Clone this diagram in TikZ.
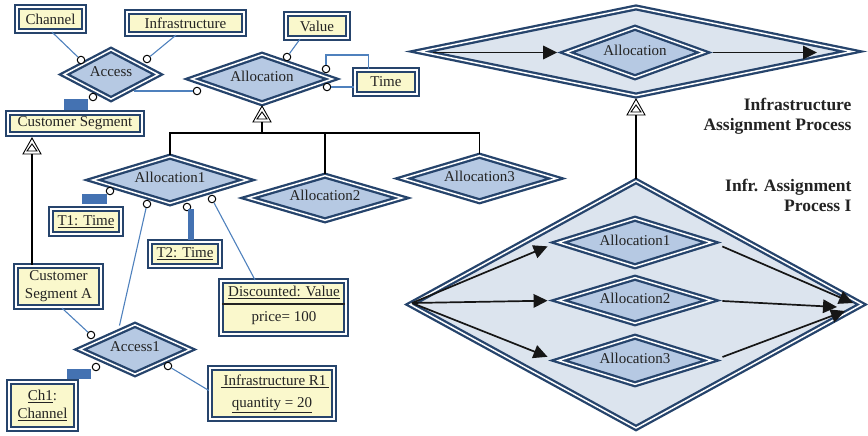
\documentclass[tikz,border=0pt]{standalone}
\usepackage{fontspec}
\setmainfont{Liberation Serif}
\usetikzlibrary{shapes.geometric,arrows.meta,calc}

\definecolor{edgeblue}{RGB}{38,68,108}
\definecolor{relfill}{RGB}{182,201,227}
\definecolor{procfill}{RGB}{220,228,238}
\definecolor{entfill}{RGB}{250,248,204}
\definecolor{linkblue}{RGB}{79,129,189}
\definecolor{barblue}{RGB}{68,114,178}
\definecolor{flowblack}{RGB}{22,22,22}
\definecolor{inkgray}{RGB}{35,35,35}

\tikzset{
  gen/.pic={
    \draw[line width=0.9pt, fill=white] (0,0) -- (9,16) -- (-9,16) -- cycle;
    \draw[line width=0.9pt] (0,6) -- (5,13) -- (-5,13) -- cycle;
    \coordinate (-base) at (0,16);
  }
}

\begin{document}
\begin{tikzpicture}[x=1pt,y=-1pt,
  every node/.style={font=\fontsize{15}{18}\selectfont, text=inkgray},
  dbl/.style={draw=edgeblue, line width=2.3pt, double=white, double distance=1.5pt},
  rel/.style={dbl, diamond, aspect=3, inner sep=0pt, fill=relfill, text depth=5pt},
  proc/.style={dbl, diamond, aspect=3, inner sep=0pt, fill=procfill},
  ent/.style={dbl, rectangle, inner sep=0pt, fill=entfill},
  size/.style 2 args={minimum width=#1, minimum height=#2},
  port/.style={circle, draw=black, fill=white, line width=1pt, minimum size=7.5pt, inner sep=0pt},
  bar/.style={rectangle, fill=barblue, inner sep=0pt},
  conn/.style={draw=linkblue, line width=1.1pt},
  tree/.style={draw=black, line width=1.2pt},
  flow/.style={draw=flowblack, line width=1.7pt, -{Triangle[length=14pt,width=13.5pt]}},
  title/.style={font=\fontsize{17.5}{20}\selectfont\bfseries, align=right, anchor=east},
]
\useasboundingbox (0,0) rectangle (868,436);

% ---------- process views on the right ----------
\node[proc, size={433}{89}] (bigTop) at (636,51.5) {};
\node[proc, size={452.5}{248}] (bigBot) at (636,304.5) {};

\node[rel, size={138.5}{50.5}] (allocTop) at (635,52.5) {Allocation};
\node[rel, size={154}{48.5}] (b1) at (635,242.5) {Allocation1};
\node[rel, size={153.5}{46.5}] (b2) at (635,300.5) {Allocation2};
\node[rel, size={154}{48.5}] (b3) at (635,360.5) {Allocation3};

\node[title] (lbl1) at (855,116) {Infrastructure\\Assignment Process};
\node[title] (lbl2) at (855,195) {Infr. Assignment\\Process I};

% ---------- relationship types ----------
\node[rel, size={95}{50.2}] (access) at (111,74.5) {Access};
\node[rel, size={141.5}{49.5}] (alloc) at (262,79) {Allocation};
\node[rel, size={155.5}{47.6}] (a1) at (170,180) {Allocation1};
\node[rel, size={154.7}{45.6}] (a2) at (325,198) {Allocation2};
\node[rel, size={154.5}{46.5}] (a3) at (479.5,178.5) {Allocation3};
\node[rel, size={111.2}{50.3}] (access1) at (135,349.5) {Access1};

% ---------- entity types and instances ----------
\node[ent, size={66.9}{23.9}] (chan) at (50.5,19) {Channel};
\node[ent, size={116.9}{21.9}] (infra) at (185.5,23) {Infrastructure};
\node[ent, size={61.9}{23.9}] (value) at (317,26) {Value};
\node[ent, size={61.9}{23.9}] (time) at (386,82) {Time};
\node[ent, size={133.9}{20.9}] (cseg) at (75,123.5) {Customer Segment};
\node[ent, size={69.9}{24.9}] (t1) at (86,221.5) {\underline{T1: Time}};
\node[ent, size={69.9}{23.9}] (t2) at (185,254) {\underline{T2: Time}};
\node[ent, size={84.9}{40.9}, align=center] (csegA) at (58.5,286.5) {Customer\\Segment A};
\node[ent, size={124.9}{52.9}] (disc) at (283.5,307.5) {};
\node[ent, size={66.9}{46.9}, align=center] (ch1) at (42.5,405.5) {\underline{Ch1}:\\\underline{Channel}};
\node[ent, size={123.9}{50.9}] (infR1) at (272,393.5) {};

\node (discT) at (284,292) {\underline{Discounted: Value}};
\node (discP) at (284,318) {price= 100};
\draw[line width=1.4pt, draw=inkgray] ($(disc.west)+(2,-3.5)$) -- ($(disc.east)+(-2,-3.5)$);
\node (infRT) at (275,381) {\underline{\hspace{3pt}Infrastructure R1\hspace{3pt}}};
\node (infRQ) at (272,405) {\underline{quantity = 20}};

% ---------- role ports ----------
\node[port] (pA1) at (81,60) {};
\node[port] (pA2) at (147,59) {};
\node[port] (pA3) at (93,97) {};
\node[port] (pL1) at (197,91) {};
\node[port] (pV) at (287,57) {};
\node[port] (pT1) at (326,69) {};
\node[port] (pT2) at (327,87) {};
\node[port] (pB1) at (110,191) {};
\node[port] (pB2) at (147,204) {};
\node[port] (pB3) at (187,207) {};
\node[port] (pB4) at (212,199) {};
\node[port] (pC1) at (91,335) {};
\node[port] (pC2) at (96,367) {};
\node[port] (pC3) at (168,366) {};

% ---------- identifying bars ----------
\node[bar, size={24}{11}] (bar1) at (76,104.5) {};
\node[bar, size={25}{10}] (bar2) at (94.5,199) {};
\node[bar, size={6}{31}] (bar3) at (191,224.5) {};
\node[bar, size={24}{10}] (bar4) at (79,374) {};

% ---------- role connectors ----------
\draw[conn] ($(chan.south)+(1.5,0)$) -- (pA1);
\draw[conn] ($(infra.south)+(-9.5,0)$) -- (pA2);
\draw[conn] ($(value.south)+(-17,0)$) -- (pV);
\coordinate (accR) at (133.5,91);
\draw[conn] (accR) -- (pL1);
\draw[conn] (pT1) -- ++(0,-14) -| ($(time.north west)+(15,0)$);
\draw[conn] (pT2) -- (pT2 -| time.west);
\coordinate (acc1T) at (119.5,325.5);
\draw[conn] (pB2) -- (acc1T);
\draw[conn] (pB4) -- ($(disc.north)+(-28.5,0)$);
\draw[conn] ($(csegA.south)+(3.5,0)$) -- (pC1);
\draw[conn] (pC3) -- ($(infR1.west)+(0,-3)$);

% ---------- specialisation ----------
\pic (g1) at (262,106) {gen};
\pic (g2) at (32,138) {gen};
\pic (g3) at (636,99) {gen};
\coordinate (bus) at (0,133);
\draw[tree] (g1-base) -- (g1-base |- bus);
\draw[tree] (a1.north) -- (a1.north |- bus) -| (a3.north);
\draw[tree] (a2.north) -- (a2.north |- bus);
\draw[tree] (g2-base) -- (csegA.north -| g2-base);
\draw[tree] (g3-base) -- (bigBot.north);

% ---------- flows ----------
\coordinate (fT0) at (433,52.5);
\coordinate (fT1) at (817,52.5);
\draw[flow, shorten >=7.5pt] (fT0) -- (allocTop.west);
\draw[flow, shorten <=7.5pt] (allocTop.east) -- (fT1);

\coordinate (fB0) at (412,303);
\coordinate (fE1) at (853,303);
\coordinate (fE2) at (837,307);
\coordinate (fE3) at (845,311);
\draw[flow, shorten >=10pt] (fB0) -- (b1.west);
\draw[flow, shorten >=9.5pt] (fB0) -- (b2.west);
\draw[flow, shorten >=10pt] (fB0) -- (b3.west);
\draw[flow, shorten <=10pt] (b1.east) -- (fE1);
\draw[flow, shorten <=9.5pt] (b2.east) -- (fE2);
\draw[flow, shorten <=10pt] (b3.east) -- (fE3);
\end{tikzpicture}
\end{document}
